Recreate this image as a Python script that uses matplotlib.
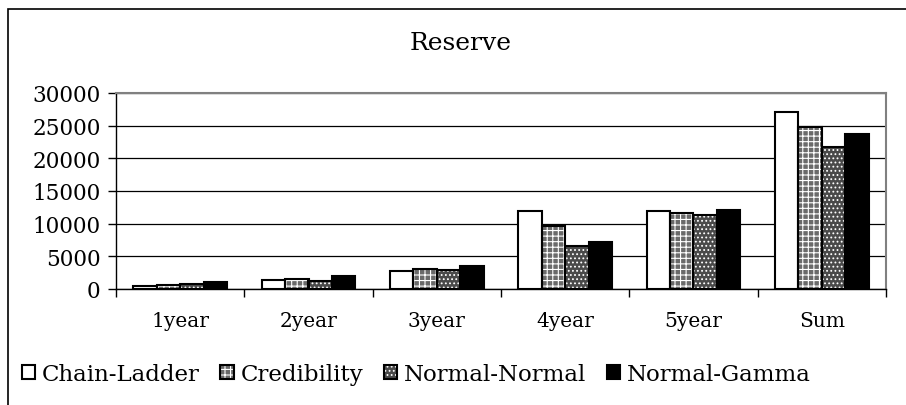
import numpy as np
import matplotlib
matplotlib.use("Agg")
import matplotlib.pyplot as plt
from matplotlib.patches import Rectangle
from matplotlib.legend_handler import HandlerTuple

plt.rcParams['font.family'] = ['DejaVu Serif']
plt.rcParams['hatch.linewidth'] = 0.8

categories = ["1year", "2year", "3year", "4year", "5year", "Sum"]
chain_ladder = [500, 1430, 2760, 11950, 11950, 27030]
credibility = [600, 1580, 3010, 9610, 11700, 24830]
normal_normal = [800, 1280, 2860, 6540, 11400, 21670]
normal_gamma = [1100, 1940, 3580, 7200, 12160, 23760]
series_names = ["Chain-Ladder", "Credibility", "Normal-Normal", "Normal-Gamma"]
yticks = [0, 5000, 10000, 15000, 20000, 25000, 30000]

# fill, hatch for each series (hatch drawn in white over the fill)
styles = [("white", None), ("#6a6a6a", "+++"), ("#4a4a4a", "...."), ("black", None)]

fig = plt.figure(figsize=(9.06, 4.06), dpi=100)
ax = fig.add_axes([116 / 906, 1 - 290 / 406, (886 - 116) / 906, (290 - 94) / 406])

# outer chart frame
fig.patches.append(Rectangle((8 / 906, -0.1), 1.2, 1 - 10 / 406 + 0.1,
                             transform=fig.transFigure, fill=False,
                             edgecolor="black", linewidth=1.2))

x = np.arange(len(categories))
w = 0.182
handles = []
for i, (vals, (fc, hatch)) in enumerate(zip(
        [chain_ladder, credibility, normal_normal, normal_gamma], styles)):
    pos = x + (i - 1.5) * w
    fill = ax.bar(pos, vals, w, color=fc, edgecolor="white", linewidth=0,
                  hatch=hatch, zorder=3)
    outline = ax.bar(pos, vals, w, fill=False, edgecolor="black",
                     linewidth=1.5, zorder=4)
    handles.append((fill[0], outline[0]))

ax.set_xlim(-0.5, len(categories) - 0.5)
ax.set_ylim(0, 30000)
ax.set_yticks(yticks)
ax.set_yticklabels([str(v) for v in yticks], fontsize=15.5)
ax.set_xticks(x)
ax.set_xticklabels(categories, fontsize=14.5)
ax.set_xticks(np.arange(len(categories) + 1) - 0.5, minor=True)
ax.tick_params(axis="x", which="major", length=0, pad=16)
ax.tick_params(axis="x", which="minor", length=6, width=1, direction="out")
ax.tick_params(axis="y", length=6, width=1, direction="out", pad=5)

ax.yaxis.grid(True, color="black", linewidth=0.9, zorder=0)
ax.set_axisbelow(True)
for s in ["top", "right"]:
    ax.spines[s].set_color("#808080")
    ax.spines[s].set_linewidth(1.5)
for s in ["left", "bottom"]:
    ax.spines[s].set_color("black")
    ax.spines[s].set_linewidth(1.0)

fig.text(0.508, 1 - 43 / 406, "Reserve", ha="center", va="center", fontsize=18)

fig.legend(handles, series_names, handler_map={tuple: HandlerTuple(ndivide=1)},
           loc="center left", bbox_to_anchor=(22 / 906, 1 - 375 / 406),
           ncol=4, frameon=False, fontsize=16.5, handlelength=0.57,
           handleheight=0.57, handletextpad=0.3, columnspacing=0.9,
           borderaxespad=0, borderpad=0)

fig.savefig("out.png", dpi=100)
